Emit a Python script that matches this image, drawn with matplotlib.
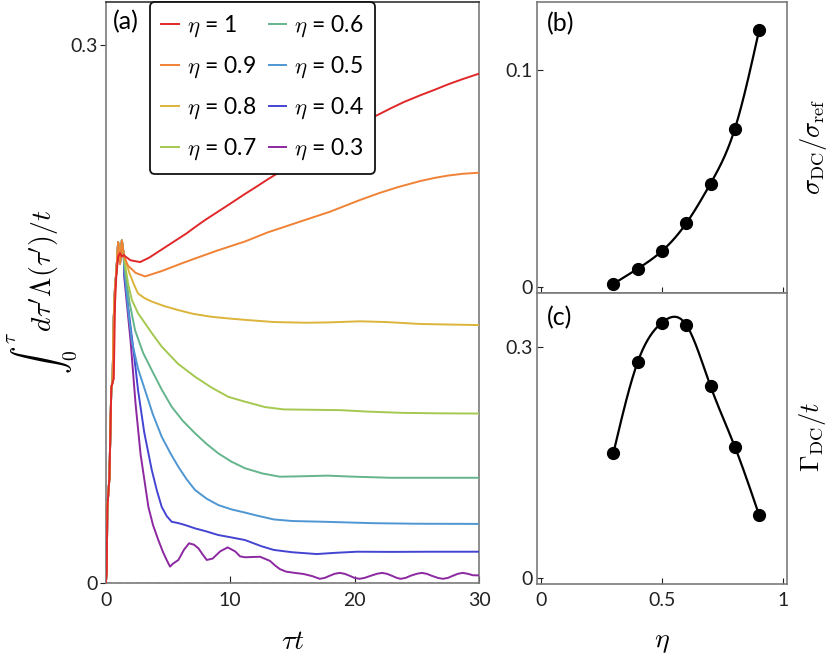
import numpy as np
import matplotlib
matplotlib.use("Agg")
import matplotlib.pyplot as plt

plt.rcParams['font.family'] = ['Lato', 'DejaVu Sans']
plt.rcParams['mathtext.fontset'] = 'cm'

# ---------------- data: panel (a) ----------------
eta_labels = ["1", "0.9", "0.8", "0.7", "0.6", "0.5", "0.4", "0.3"]
colors = ["#e0282a", "#f08236", "#dcb43c", "#a4c850", "#64b48c", "#4e96d2", "#4444d2", "#8c28a0"]

tau_rise = [0, 0.08, 0.13, 0.3, 0.45, 0.55, 0.65, 0.75, 0.85, 1.0, 1.15, 1.3, 1.45]
val_rise = [0, 0.006, 0.042, 0.059, 0.109, 0.112, 0.148, 0.165, 0.173, 0.190, 0.178, 0.191, 0.183]
val_rise_red = [0, 0.006, 0.042, 0.059, 0.109, 0.112, 0.114, 0.156, 0.171, 0.182, 0.184, 0.182, 0.183]

tau_eta10 = [1.6, 2.0, 2.76, 3.5, 4.5, 5.5, 6.5, 7.18, 8, 9, 10, 11.2, 12, 13, 14, 15, 16, 17.5, 19, 20.7, 22,
             23, 24, 25.3, 26.5, 27.5, 28.7, 30]
val_eta10 = [0.182, 0.180, 0.179, 0.1815, 0.1860, 0.1905, 0.1950, 0.1985, 0.2025, 0.2070, 0.2115, 0.2170, 0.2205,
             0.2250, 0.2293, 0.2335, 0.2377, 0.2440, 0.2500, 0.2570, 0.2615, 0.2650, 0.2683, 0.2720, 0.2752,
             0.2780, 0.2810, 0.2840]

tau_eta09 = [1.6, 1.8, 2.4, 3.16, 4.5, 6, 7.18, 9, 11.2, 13, 15.6, 18, 20.4, 22, 23.5, 25.3, 26.5, 27.5, 28.7, 30]
val_eta09 = [0.180, 0.177, 0.173, 0.171, 0.174, 0.178, 0.181, 0.1855, 0.1905, 0.1955, 0.2015, 0.207, 0.2135,
             0.2175, 0.2208, 0.2242, 0.2260, 0.2272, 0.2282, 0.2288]

tau_eta08 = [1.6, 1.9, 2.3, 2.6, 3.1, 3.7, 4.7, 5.8, 7.0, 8.5, 10, 11.2, 13.5, 16.1, 18, 20.4, 22.5, 25.3, 30]
val_eta08 = [0.180, 0.173, 0.166, 0.1615, 0.1590, 0.157, 0.1545, 0.1523, 0.1502, 0.1485, 0.1475, 0.1468, 0.1456,
             0.1452, 0.1454, 0.146, 0.1456, 0.1445, 0.1439]

tau_eta07 = [1.55, 1.8, 2.1, 2.6, 3.16, 3.8, 4.5, 5.8, 7.18, 8.5, 9.86, 11.2, 12.8, 14.3, 16.5, 18.8, 21, 23.7, 27, 30]
val_eta07 = [0.178, 0.167, 0.158, 0.1505, 0.1449, 0.1385, 0.1319, 0.1224, 0.1151, 0.1091, 0.1039, 0.1012, 0.0982,
             0.0969, 0.0967, 0.0965, 0.0957, 0.0950, 0.0947, 0.0946]

tau_eta06 = [1.55, 1.9, 2.36, 3.0, 3.7, 4.5, 5.3, 6.2, 7.18, 8.1, 9.05, 10.1, 11.2, 12.6, 14, 15.5, 17.8, 20, 22.9, 30]
val_eta06 = [0.175, 0.157, 0.141, 0.1285, 0.1188, 0.1080, 0.0984, 0.0905, 0.0836, 0.0777, 0.0724, 0.0678, 0.0641,
             0.0612, 0.0594, 0.0596, 0.0600, 0.0594, 0.0588, 0.0588]

tau_eta05 = [1.5, 1.8, 2.1, 2.6, 3.16, 3.8, 4.5, 5.2, 5.84, 6.5, 7.18, 8.1, 9.05, 10.1, 11.2, 12.3, 13.5, 15, 17.5,
             21.5, 25, 30]
val_eta05 = [0.175, 0.153, 0.135, 0.1195, 0.1076, 0.0940, 0.0817, 0.0725, 0.0649, 0.0580, 0.052, 0.0472, 0.0436,
             0.0412, 0.0394, 0.0375, 0.0356, 0.0347, 0.0343, 0.0335, 0.0332, 0.0331]

tau_eta04 = [1.5, 2.0, 2.3, 2.6, 3.1, 3.7, 4.1, 4.5, 4.9, 5.3, 5.8, 6.37, 7.18, 8, 9.05, 10, 11.2, 12.5, 13.5, 15,
             16.96, 18.5, 20.2, 23, 26, 30]
val_eta04 = [0.172, 0.143, 0.126, 0.1076, 0.0840, 0.0632, 0.0520, 0.0426, 0.0375, 0.0343, 0.0336, 0.0325, 0.0306,
             0.0291, 0.0269, 0.0257, 0.0241, 0.0207, 0.0186, 0.0173, 0.0163, 0.017, 0.0176, 0.0175, 0.0176, 0.0176]

tau_eta03 = [1.5, 2.0, 2.4, 2.8, 3.43, 3.8, 4.23, 4.6, 4.9, 5.17, 5.4, 5.84, 6.3, 6.7, 7.1, 7.45, 7.8, 8.12, 8.6,
             9.2, 9.8, 10.4, 10.8, 11.2, 11.6, 12.4, 13.2, 13.6, 14.0, 14.5, 15.2, 15.9, 16.6, 17.2,
             17.6, 18.0, 18.4, 18.8, 19.2, 19.6, 20.0, 20.4, 20.8, 21.3, 21.8, 22.2, 22.6, 23.0, 23.4, 23.7,
             24.1, 24.5, 25.0, 25.4, 25.8, 26.2, 26.7, 27.1, 27.5, 27.9, 28.3, 28.7, 29.1, 29.5, 30]
val_eta03 = [0.170, 0.135, 0.100, 0.072, 0.0426, 0.0325, 0.0241, 0.0175, 0.013, 0.0093, 0.0109, 0.013, 0.0188,
             0.0223, 0.0215, 0.0195, 0.0160, 0.013, 0.0138, 0.0178, 0.020, 0.0178, 0.0150, 0.0145, 0.0146, 0.0148,
             0.0125, 0.0100, 0.0079, 0.0065, 0.0058, 0.0052, 0.0040, 0.0025,
             0.0030, 0.0042, 0.0053, 0.0058, 0.0053, 0.0042, 0.0030, 0.0025, 0.0030, 0.0042, 0.0053, 0.0058,
             0.0053, 0.0042, 0.0030, 0.0025, 0.0030, 0.0042, 0.0053, 0.0058, 0.0053, 0.0042, 0.0030, 0.0025,
             0.0030, 0.0042, 0.0053, 0.0058, 0.0053, 0.0045, 0.0044]

late_tau = [tau_eta10, tau_eta09, tau_eta08, tau_eta07, tau_eta06, tau_eta05, tau_eta04, tau_eta03]
late_val = [val_eta10, val_eta09, val_eta08, val_eta07, val_eta06, val_eta05, val_eta04, val_eta03]

# ---------------- data: panels (b), (c) ----------------
eta_pts = [0.3, 0.4, 0.5, 0.6, 0.7, 0.8, 0.9]
sigma_dc = [0.0013, 0.0083, 0.0165, 0.0293, 0.0477, 0.0729, 0.1185]
gamma_dc = [0.1627, 0.2802, 0.331, 0.328, 0.2487, 0.1705, 0.0821]


def natural_spline(x, y, n=300):
    x = np.asarray(x, float); y = np.asarray(y, float)
    m = len(x); h = np.diff(x)
    A = np.zeros((m, m)); r = np.zeros(m)
    A[0, 0] = A[-1, -1] = 1
    for i in range(1, m - 1):
        A[i, i - 1] = h[i - 1]; A[i, i] = 2 * (h[i - 1] + h[i]); A[i, i + 1] = h[i]
        r[i] = 3 * ((y[i + 1] - y[i]) / h[i] - (y[i] - y[i - 1]) / h[i - 1])
    c = np.linalg.solve(A, r)
    xs = np.linspace(x[0], x[-1], n); ys = np.empty_like(xs)
    for k, xv in enumerate(xs):
        i = min(np.searchsorted(x, xv, side='right') - 1, m - 2)
        b = (y[i + 1] - y[i]) / h[i] - h[i] * (2 * c[i] + c[i + 1]) / 3
        d = (c[i + 1] - c[i]) / (3 * h[i])
        dx = xv - x[i]
        ys[k] = y[i] + b * dx + c[i] * dx ** 2 + d * dx ** 3
    return xs, ys


W, H = 830, 659
fig = plt.figure(figsize=(W / 100, H / 100), dpi=100)


def fx(px):
    return px / W


def fy(py):
    return 1 - py / H


spine_col = '#7a7a7a'
tick_fs = 14

# ---------------- panel (a) ----------------
axa = fig.add_axes([fx(105.7), fy(583.3), fx(479) - fx(105.7), fy(1.7) - fy(583.3)])
axa.axhline(0, color='#555555', lw=1.0, ls=(0, (4, 3)), zorder=1)
for i in range(8):
    rv = val_rise_red if i == 0 else val_rise
    t = list(tau_rise) + list(late_tau[i])
    v = list(rv) + list(late_val[i])
    axa.plot(t, v, color=colors[i], lw=1.4, label=r'$\eta$ = ' + eta_labels[i], zorder=3 + (8 - i) * 0.1,
             solid_joinstyle='round')
axa.set_xlim(0, 30)
axa.set_ylim(0, 0.3241)
axa.set_xticks([0, 10, 20, 30])
axa.set_xticklabels(['0', '10', '20', '30'])
axa.set_yticks([0, 0.3])
axa.set_yticklabels(['0', '0.3'])
axa.tick_params(axis='x', direction='in', length=5, width=0.8, labelsize=tick_fs, pad=6, colors='#222222')
axa.tick_params(axis='y', direction='out', length=4, width=0.8, labelsize=tick_fs, pad=2, colors='#222222')
for s in axa.spines.values():
    s.set_color(spine_col); s.set_linewidth(1.2)
axa.spines['top'].set_color('#333333')
axa.text(0.02, 0.985, '(a)', transform=axa.transAxes, fontsize=18, va='top', ha='left')
leg = axa.legend(ncol=2, loc='upper left', bbox_to_anchor=(fx(150), fy(2)), bbox_transform=fig.transFigure,
                 fontsize=16.5, handlelength=0.75, handletextpad=0.35, columnspacing=0.55, labelspacing=0.68,
                 borderpad=0.5, borderaxespad=0, fancybox=True, framealpha=1, edgecolor='#111111')
leg.get_frame().set_linewidth(1.3)
axa.set_xlabel(r'$\tau t$', fontsize=20, labelpad=14)
fig.text(fx(42), fy(292), r'$\int_0^{\tau}\, d\tau^{\prime}\Lambda(\tau^{\prime})/t$', rotation=90,
         fontsize=20, ha='center', va='center')

# ---------------- panel (b) ----------------
axb = fig.add_axes([fx(536.7), fy(292.7), fx(786.7) - fx(536.7), fy(1.7) - fy(292.7)])
xs, ys = natural_spline(eta_pts, sigma_dc)
axb.plot(xs, ys, color='black', lw=1.6)
axb.plot(eta_pts, sigma_dc, 'o', color='black', ms=8.5)
axb.set_xlim(-0.0165, 1.014)
axb.set_ylim(-0.0028, 0.1318)
axb.set_xticks([0, 0.5, 1])
axb.set_xticklabels([])
axb.set_yticks([0, 0.1])
axb.set_yticklabels(['0', '0.1'])
axb.tick_params(direction='in', length=4, width=0.8, labelsize=tick_fs, pad=3, colors='#222222')
for s in axb.spines.values():
    s.set_color(spine_col); s.set_linewidth(1.2)
axb.text(0.04, 0.965, '(b)', transform=axb.transAxes, fontsize=18, va='top', ha='left')
fig.text(fx(813), fy(147), r'$\sigma_{\mathrm{DC}}/\sigma_{\mathrm{ref}}$', rotation=90, fontsize=19,
         ha='center', va='center')

# ---------------- panel (c) ----------------
axc = fig.add_axes([fx(536.7), fy(584), fx(786.7) - fx(536.7), fy(292.7) - fy(584)])
xs, ys = natural_spline(eta_pts, gamma_dc)
axc.plot(xs, ys, color='black', lw=1.6)
axc.plot(eta_pts, gamma_dc, 'o', color='black', ms=8.5)
axc.set_xlim(-0.0165, 1.014)
axc.set_ylim(-0.0074, 0.3697)
axc.set_xticks([0, 0.5, 1])
axc.set_xticklabels(['0', '0.5', '1'])
axc.set_yticks([0, 0.3])
axc.set_yticklabels(['0', '0.3'])
axc.tick_params(direction='in', length=4, width=0.8, labelsize=tick_fs, pad=3, colors='#222222')
axc.tick_params(axis='x', pad=6)
for s in axc.spines.values():
    s.set_color(spine_col); s.set_linewidth(1.2)
axc.text(0.04, 0.955, '(c)', transform=axc.transAxes, fontsize=18, va='top', ha='left')
axc.set_xlabel(r'$\eta$', fontsize=20, labelpad=14)
fig.text(fx(812), fy(437), r'$\Gamma_{\mathrm{DC}}/t$', rotation=90, fontsize=19, ha='center', va='center')

fig.savefig('out.png', dpi=100)
